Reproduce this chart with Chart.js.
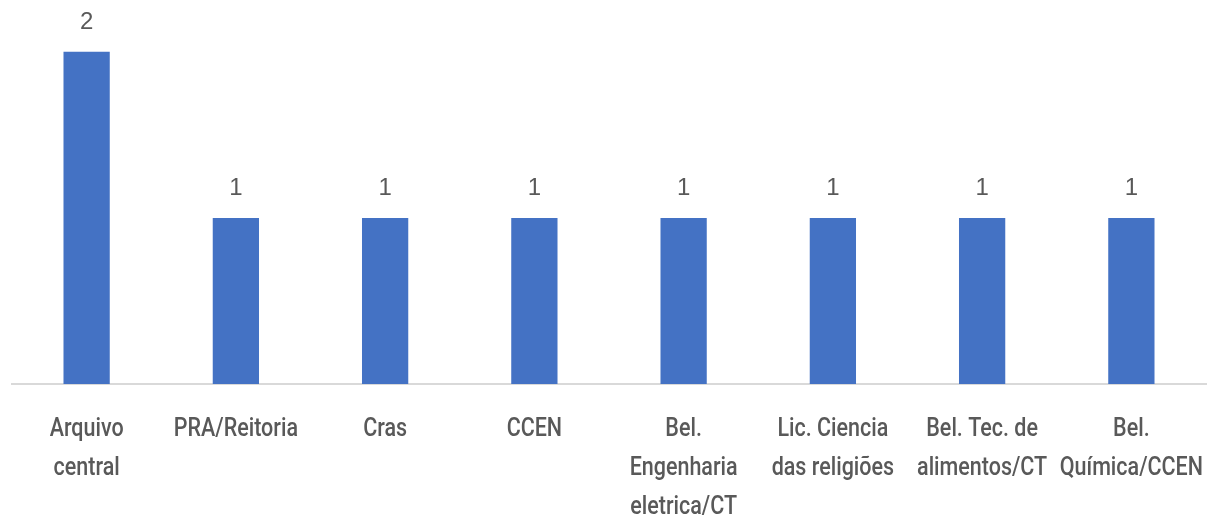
<!DOCTYPE html>
<html>
<head>
<meta charset="utf-8">
<script src="https://cdn.jsdelivr.net/npm/chart.js@4/dist/chart.umd.min.js"></script>
<style>
html,body{margin:0;padding:0;background:#fff;}
#wrap{width:1208px;height:519px;position:relative;}
</style>
</head>
<body>
<div id="wrap"><canvas id="c" width="1208" height="519"></canvas></div>
<script>
const categories = [
  ["Arquivo","central"],
  ["PRA/Reitoria"],
  ["Cras"],
  ["CCEN"],
  ["Bel.","Engenharia","eletrica/CT"],
  ["Lic. Ciencia","das religiões"],
  ["Bel. Tec. de","alimentos/CT"],
  ["Bel.","Química/CCEN"]
];
const values = [2, 1, 1, 1, 1, 1, 1, 1];

const dataLabels = {
  id: 'dataLabels',
  afterDatasetsDraw(chart) {
    const ctx = chart.ctx;
    const meta = chart.getDatasetMeta(0);
    ctx.save();
    ctx.font = '24px "Liberation Sans", Arial, sans-serif';
    ctx.fillStyle = '#595959';
    ctx.textAlign = 'center';
    ctx.textBaseline = 'alphabetic';
    meta.data.forEach((bar, i) => {
      ctx.fillText(String(values[i]), bar.x, bar.y - 23);
    });
    ctx.restore();
  }
};

const condensedLabels = {
  id: 'condensedLabels',
  afterDraw(chart) {
    const ctx = chart.ctx;
    const xs = chart.scales.x;
    const base = xs.top;
    ctx.save();
    ctx.font = '500 25px Roboto, sans-serif';
    ctx.fillStyle = '#595959';
    ctx.textAlign = 'center';
    ctx.textBaseline = 'alphabetic';
    const sx = 0.86;
    categories.forEach((lines, i) => {
      const x = xs.getPixelForValue(i);
      lines.forEach((t, j) => {
        ctx.save();
        ctx.translate(x, base + 52 + j * 39);
        ctx.scale(sx, 1);
        ctx.fillText(t, 0, 0);
        ctx.restore();
      });
    });
    ctx.restore();
  }
};

new Chart(document.getElementById('c'), {
  type: 'bar',
  data: {
    labels: categories,
    datasets: [{
      data: values,
      backgroundColor: '#4472C4',
      borderWidth: 0,
      categoryPercentage: 1,
      barPercentage: 0.31
    }]
  },
  options: {
    responsive: false,
    animation: false,
    layout: { padding: { left: 12, right: 2, top: 2, bottom: 0 } },
    plugins: { legend: { display: false }, tooltip: { enabled: false } },
    scales: {
      y: {
        display: false,
        min: 0, max: 2.3
      },
      x: {
        grid: { display: false, drawTicks: false },
        border: { display: true, color: '#D9D9D9', width: 2 },
        ticks: { display: false },
        afterFit(scale) { scale.height = 135; }
      }
    }
  },
  plugins: [dataLabels, condensedLabels]
});
</script>
</body>
</html>
